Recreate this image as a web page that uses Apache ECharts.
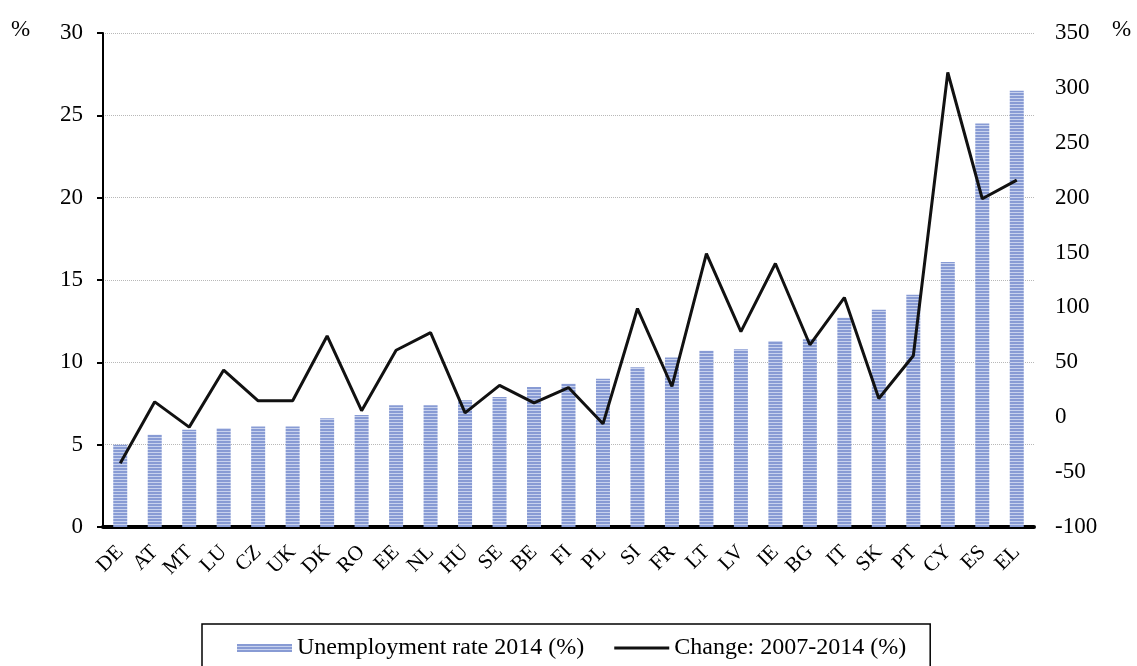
<!DOCTYPE html>
<html>
<head>
<meta charset="utf-8">
<script src="https://cdn.jsdelivr.net/npm/echarts@6/dist/echarts.min.js"></script>
<style>
  html, body { margin: 0; padding: 0; background: #fff; }
  #chart { width: 1137px; height: 666px; }
</style>
</head>
<body>
<div id="chart"></div>
<script>
const countries = ['DE', 'AT', 'MT', 'LU', 'CZ', 'UK', 'DK', 'RO', 'EE', 'NL', 'HU', 'SE', 'BE', 'FI', 'PL', 'SI', 'FR', 'LT', 'LV', 'IE', 'BG', 'IT', 'SK', 'PT', 'CY', 'ES', 'EL'];
const unemployment2014 = [5.0, 5.6, 5.9, 6.0, 6.1, 6.1, 6.6, 6.8, 7.4, 7.4, 7.7, 7.9, 8.5, 8.7, 9.0, 9.7, 10.3, 10.7, 10.8, 11.3, 11.4, 12.7, 13.2, 14.1, 16.1, 24.5, 26.5];
const change0714 = [-42, 14, -9, 43, 15, 15, 74, 6, 61, 77, 4, 29, 13, 27, -6, 99, 28, 149, 78, 140, 66, 109, 17, 56, 314, 199, 216];

const serif = '"Liberation Serif", "DejaVu Serif", serif';

// striped fill for the bars
const stripe = document.createElement('canvas');
stripe.width = 4;
stripe.height = 3;
const sctx = stripe.getContext('2d');
sctx.fillStyle = '#889bd4';
sctx.fillRect(0, 0, 4, 2);
sctx.fillStyle = '#c8d2ee';
sctx.fillRect(0, 2, 4, 1);

const chart = echarts.init(document.getElementById('chart'));
chart.setOption({
    animation: false,
    textStyle: { fontFamily: serif },
    grid: { left: 103, right: 103, top: 33, bottom: 139 },
    legend: {
        left: 202,
        top: 624,
        padding: [12, 24, 30, 35],
        borderColor: '#000',
        borderWidth: 1.5,
        itemGap: 30,
        itemWidth: 55,
        itemHeight: 8,
        textStyle: { fontFamily: serif, fontSize: 24, color: '#000' },
        data: [
            { name: 'Unemployment rate 2014 (%)', icon: 'rect', itemStyle: { color: { image: stripe, repeat: 'repeat' } } },
            { name: 'Change: 2007-2014 (%)', icon: 'path://M0,0H58V3H0Z', itemStyle: { color: '#111' } }
        ]
    },
    xAxis: {
        type: 'category',
        data: countries,
        axisTick: { show: false },
        axisLine: { lineStyle: { color: '#000', width: 4 } },
        axisLabel: { rotate: 45, interval: 0, fontSize: 21, color: '#000', fontFamily: serif, margin: 22 }
    },
    yAxis: [
        {
            type: 'value',
            min: 0, max: 30, interval: 5,
            axisLine: { show: true, lineStyle: { color: '#000', width: 2 } },
            axisTick: { show: true, length: 6, lineStyle: { color: '#000', width: 2 } },
            axisLabel: { fontSize: 23, color: '#000', fontFamily: serif, margin: 20 },
            splitLine: { lineStyle: { type: 'dotted', color: '#b8b8b8', width: 1 } }
        },
        {
            type: 'value',
            min: -100, max: 350, interval: 50,
            axisLine: { show: false },
            axisTick: { show: false },
            axisLabel: { fontSize: 23, color: '#000', fontFamily: serif, margin: 21 },
            splitLine: { show: false }
        }
    ],
    graphic: [
        { type: 'text', left: 11, top: 18, style: { text: '%', fontSize: 23, fontFamily: serif, fill: '#000' } },
        { type: 'text', left: 1112, top: 18, style: { text: '%', fontSize: 23, fontFamily: serif, fill: '#000' } }
    ],
    series: [
        {
            name: 'Unemployment rate 2014 (%)',
            type: 'bar',
            data: unemployment2014,
            barWidth: 14,
            itemStyle: { color: { image: stripe, repeat: 'repeat' } }
        },
        {
            name: 'Change: 2007-2014 (%)',
            type: 'line',
            yAxisIndex: 1,
            data: change0714,
            symbol: 'none',
            lineStyle: { color: '#111', width: 3 },
            itemStyle: { color: '#111' },
            z: 5
        }
    ]
});
</script>
</body>
</html>
